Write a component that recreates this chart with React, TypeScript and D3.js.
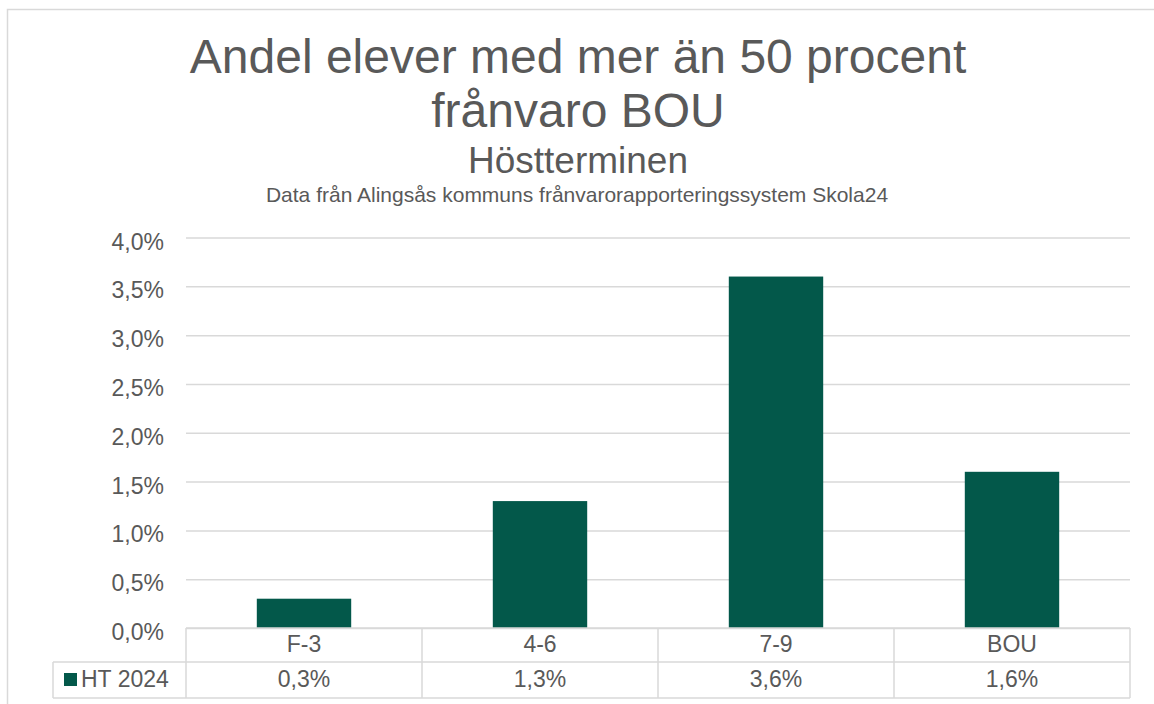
import React, { useEffect, useRef } from 'react';
import * as d3 from 'd3';

// data
const categories = ['F-3', '4-6', '7-9', 'BOU'];
const seriesName = 'HT 2024';
const values = [0.3, 1.3, 3.6, 1.6];
const yTicks = [0, 0.5, 1, 1.5, 2, 2.5, 3, 3.5, 4];

const titleLines = ['Andel elever med mer än 50 procent', 'frånvaro BOU'];
const subTitle = 'Höstterminen';
const sourceText = 'Data från Alingsås kommuns frånvarorapporteringssystem Skola24';

const App = () => {
  const svgRef = useRef<SVGSVGElement | null>(null);

  useEffect(() => {
    if (!svgRef.current) return;
    const width = 1154;
    const height = 704;
    const plot = { left: 186, right: 1130, top: 237.5, bottom: 628 };
    const font = "'Liberation Sans', Arial, sans-serif";
    const textColor = '#595959';
    const lineColor = '#d9d9d9';
    const barColor = '#03584a';
    const fmt = (v: number) => v.toFixed(1).replace('.', ',') + '%';

    const svg = d3.select(svgRef.current)
      .attr('width', width)
      .attr('height', height)
      .style('font-family', font);
    svg.selectAll('*').remove();

    svg.append('rect').attr('width', width).attr('height', height).attr('fill', '#fff');

    // outer chart frame (cropped at the edges)
    svg.append('path')
      .attr('d', `M7.5,${height} V9.5 H${width}`)
      .attr('fill', 'none')
      .attr('stroke', lineColor)
      .attr('stroke-width', 1.5);

    // titles
    const title = svg.append('text')
      .attr('text-anchor', 'middle')
      .attr('fill', textColor)
      .style('font-size', '48px');
    titleLines.forEach((t, i) => {
      title.append('tspan').attr('x', 578).attr('y', 73 + i * 54).text(t);
    });
    svg.append('text')
      .attr('x', 578).attr('y', 173)
      .attr('text-anchor', 'middle')
      .attr('fill', textColor)
      .style('font-size', '37px')
      .text(subTitle);
    svg.append('text')
      .attr('x', 577).attr('y', 202)
      .attr('text-anchor', 'middle')
      .attr('fill', textColor)
      .style('font-size', '21px')
      .text(sourceText);

    // scales
    const x = d3.scaleBand<string>()
      .domain(categories)
      .range([plot.left, plot.right])
      .paddingInner(0.6)
      .paddingOuter(0.3);
    const y = d3.scaleLinear()
      .domain([0, 4])
      .range([plot.bottom, plot.top]);

    // gridlines + tick labels
    const yAxis = d3.axisLeft(y)
      .tickValues(yTicks)
      .tickSize(-(plot.right - plot.left))
      .tickPadding(22)
      .tickFormat(d => fmt(d as number));
    const gy = svg.append('g')
      .attr('transform', `translate(${plot.left},0)`)
      .call(yAxis);
    gy.select('.domain').remove();
    gy.selectAll('.tick line')
      .attr('stroke', lineColor)
      .attr('stroke-width', 1.5);
    gy.selectAll('.tick text')
      .attr('fill', textColor)
      .attr('dy', '0.5em')
      .style('font-size', '23px')
      .style('font-family', font);

    // bars
    svg.append('g')
      .selectAll('rect')
      .data(values)
      .enter().append('rect')
      .attr('x', (d, i) => x(categories[i]) as number)
      .attr('y', d => y(d))
      .attr('width', x.bandwidth())
      .attr('height', d => y(0) - y(d))
      .attr('fill', barColor);

    // data table under the axis
    const table = svg.append('g');
    const step = x.step();
    const edges = categories.map((c, i) => plot.left + i * step).concat([plot.right]);
    const tableTop = plot.bottom;
    const rowMid = 662;
    const tableBottom = 698;
    const lines = table.append('g')
      .attr('stroke', lineColor)
      .attr('stroke-width', 1.5)
      .attr('fill', 'none');
    lines.append('line').attr('x1', plot.left).attr('x2', plot.right).attr('y1', tableTop).attr('y2', tableTop);
    lines.append('line').attr('x1', 53).attr('x2', plot.right).attr('y1', rowMid).attr('y2', rowMid);
    lines.append('line').attr('x1', 53).attr('x2', plot.right).attr('y1', tableBottom).attr('y2', tableBottom);
    lines.append('line').attr('x1', 53).attr('x2', 53).attr('y1', rowMid).attr('y2', tableBottom);
    edges.forEach(ex => {
      lines.append('line').attr('x1', ex).attr('x2', ex).attr('y1', tableTop).attr('y2', tableBottom);
    });

    table.selectAll('text.cat')
      .data(categories)
      .enter().append('text')
      .attr('class', 'cat')
      .attr('x', d => (x(d) as number) + x.bandwidth() / 2)
      .attr('y', 652)
      .attr('text-anchor', 'middle')
      .attr('fill', textColor)
      .style('font-size', '23px')
      .text(d => d);

    table.selectAll('text.val')
      .data(values)
      .enter().append('text')
      .attr('class', 'val')
      .attr('x', (d, i) => (x(categories[i]) as number) + x.bandwidth() / 2)
      .attr('y', 687)
      .attr('text-anchor', 'middle')
      .attr('fill', textColor)
      .style('font-size', '23px')
      .text(d => fmt(d));

    // legend key inside the table
    table.append('rect')
      .attr('x', 64).attr('y', 673)
      .attr('width', 13).attr('height', 13)
      .attr('fill', barColor);
    table.append('text')
      .attr('x', 81).attr('y', 687)
      .attr('fill', textColor)
      .style('font-size', '23px')
      .text(seriesName);
  }, []);

  return (
    <svg ref={svgRef} style={{ position: 'absolute', left: 0, top: 0, display: 'block' }} />
  );
};

export default App;
